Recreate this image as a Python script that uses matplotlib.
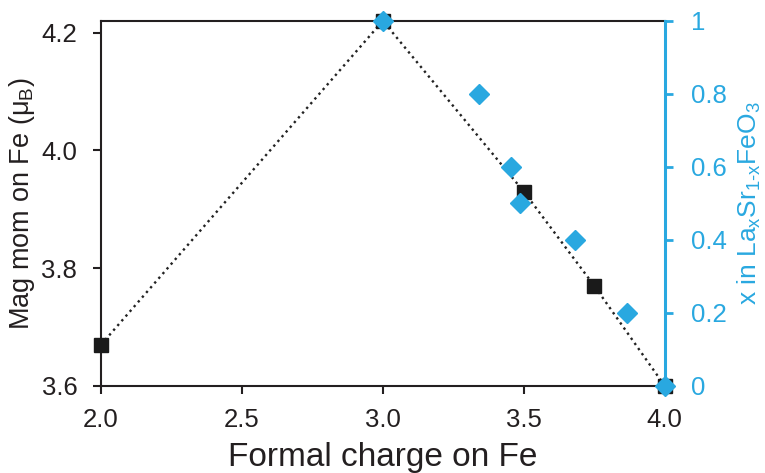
import matplotlib
matplotlib.use('Agg')
import matplotlib.pyplot as plt

plt.rcParams['font.family'] = ['Liberation Sans', 'DejaVu Sans']
plt.rcParams['mathtext.fontset'] = 'custom'
plt.rcParams['mathtext.rm'] = 'Liberation Sans'
plt.rcParams['mathtext.it'] = 'Liberation Sans'
plt.rcParams['mathtext.default'] = 'regular'

blue = '#29a8e0'

# magnetic moment on Fe vs formal charge
charge = [2.0, 3.0, 3.5, 3.75, 4.0]
magmom = [3.67, 4.22, 3.93, 3.77, 3.6]

# x in La_xSr_1-xFeO3 vs formal charge
charge_x = [3.0, 3.34, 3.455, 3.485, 3.68, 3.865, 4.0]
x_la = [1.0, 0.8, 0.6, 0.5, 0.4, 0.2, 0.0]

xticks = [2.0, 2.5, 3.0, 3.5, 4.0]
yticks = [3.6, 3.8, 4.0, 4.2]
xticks_r = [0, 0.2, 0.4, 0.6, 0.8, 1.0]
xtick_r_labels = ['0', '0.2', '0.4', '0.6', '0.8', '1']

fig = plt.figure(figsize=(7.65, 4.73), dpi=100)
ax = fig.add_axes([0.132, 0.184, 0.737, 0.772])

ax.plot(charge, magmom, color='#222222', linestyle=':', linewidth=1.7,
        marker='s', markersize=10, markerfacecolor='#1a1a1a',
        markeredgecolor='#1a1a1a', clip_on=False, zorder=3)
ax.set_xlim(2.0, 4.0)
ax.set_ylim(3.6, 4.22)
ax.set_xticks(xticks)
ax.set_xticklabels([f'{v:.1f}' for v in xticks])
ax.set_yticks(yticks)
ax.set_yticklabels([f'{v:.1f}' for v in yticks])
ax.tick_params(axis='both', direction='out', length=6, width=1.5,
               labelsize=18.5, colors='#231f20')
ax.tick_params(axis='y', pad=11)
ax.tick_params(axis='x', pad=10)
ax.set_xlabel('Formal charge on Fe', fontsize=24, color='#231f20', labelpad=7)
ax.set_ylabel(r'Mag mom on Fe ($\mu_B$)', fontsize=19.5, color='#231f20', labelpad=3)
for s in ['left', 'bottom', 'top']:
    ax.spines[s].set_linewidth(1.5)
    ax.spines[s].set_color('#231f20')
ax.spines['right'].set_visible(False)

ax2 = ax.twinx()
ax2.plot(charge_x, x_la, linestyle='none', marker='D', markersize=10,
         color=blue, clip_on=False, zorder=4)
ax2.set_ylim(0, 1.0)
ax2.set_yticks(xticks_r)
ax2.set_yticklabels(xtick_r_labels)
ax2.tick_params(axis='y', direction='out', length=6, width=2,
                labelsize=18.5, colors=blue, pad=13)
ax2.set_ylabel(r'x in La$_x$Sr$_{1\text{-}x}$FeO$_3$', fontsize=19,
               color=blue, labelpad=6)
ax2.spines['right'].set_color(blue)
ax2.spines['right'].set_linewidth(2.2)
for s in ['left', 'bottom', 'top']:
    ax2.spines[s].set_visible(False)

fig.savefig('out.png', dpi=100)
